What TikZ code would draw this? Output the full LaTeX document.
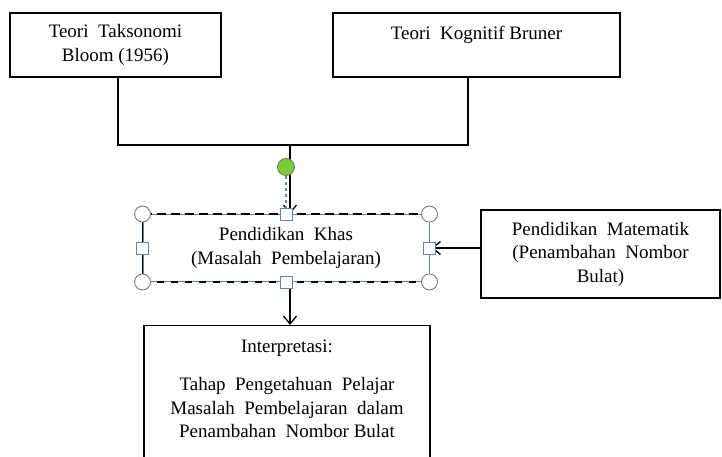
\documentclass[tikz,border=0pt]{standalone}
\usepackage{fontspec}
\setmainfont{LiberationSerif}[Extension=.ttf,UprightFont=*-Regular,BoldFont=*-Bold]
\usetikzlibrary{positioning, arrows, arrows.meta}
\definecolor{selblue}{RGB}{100,130,170}
\definecolor{handlegray}{RGB}{120,120,120}
\definecolor{dotgreen}{RGB}{122,204,50}

\begin{document}
\begin{tikzpicture}[x=1pt,y=-1pt,>={Straight Barb[length=8pt,width=13pt]},
   box/.style={draw,line width=1.4pt,align=center,inner sep=0pt,
               font=\fontsize{19}{23.5}\selectfont},
   txt/.style={align=center,inner sep=0pt,font=\fontsize{19}{23.5}\selectfont},
   link/.style={line width=1.3pt},
   corner/.style={circle,draw=handlegray,fill=white,line width=0.9pt,minimum size=16pt,inner sep=0pt},
   grip/.style={rectangle,draw=selblue,fill=white,line width=0.9pt,minimum size=12pt,inner sep=0pt}]
   \useasboundingbox (0,0) rectangle (722,457);

   \node[box, minimum width=211pt, minimum height=64pt] (bloom) at (115.5,45) {Teori\ \ Taksonomi\\Bloom (1956)};
   \node[box, minimum width=287pt, minimum height=64pt] (bruner) at (476.5,45) {Teori\ \ Kognitif Bruner\\\mbox{}};
   \node[box, line width=0.9pt, draw=selblue, minimum width=286pt, minimum height=67pt] (khas) at (286,248) {Pendidikan\ \ Khas\\(Masalah\ \ Pembelajaran)};
   \node[box, minimum width=239pt, minimum height=88pt] (matematik) at (600.5,254) {Pendidikan\ \ Matematik\\(Penambahan\ \ Nombor\\Bulat)};
   \node[box, minimum width=286pt, minimum height=150pt, anchor=north] (interp) at (287,325) {};
   \node[txt] (interptext) at (287,389) {Interpretasi:\\[15pt]Tahap\ \ Pengetahuan\ \ Pelajar\\Masalah\ \ Pembelajaran\ \ dalam\\Penambahan\ \ Nombor Bulat};

   \coordinate (join) at (290,145);

   % connectors
   \draw[link] ([xshift=2.5pt]bloom.south) |- (join) -| ([xshift=-8.5pt]bruner.south);
   \draw[link,->] (join) -- (join |- khas.north);
   \draw[link,->] (matematik.west |- khas.east) -- ([xshift=2pt]khas.east);
   \draw[link,->] (join |- khas.south) -- (join |- interp.north);

   % selection frame
   \draw[line width=1.2pt,dash pattern=on 9pt off 5pt] (khas.north west) -- (khas.north east);
   \draw[line width=1.2pt,dash pattern=on 7pt off 7pt] (khas.south west) -- (khas.south east);
   \draw[line width=1.2pt] (khas.north west) -- (khas.south west);
   \node[circle,draw=handlegray,fill=dotgreen,line width=0.9pt,minimum size=17pt,inner sep=0pt] (rotate) at (286,167) {};
   \draw[selblue,line width=1.2pt,dashed] (rotate) -- (rotate |- khas.north);
   \foreach \pos in {north west,north east,south west,south east}
      \node[corner] at (khas.\pos) {};
   \foreach \pos in {north,south,west,east}
      \node[grip] at (khas.\pos) {};
\end{tikzpicture}
\end{document}
